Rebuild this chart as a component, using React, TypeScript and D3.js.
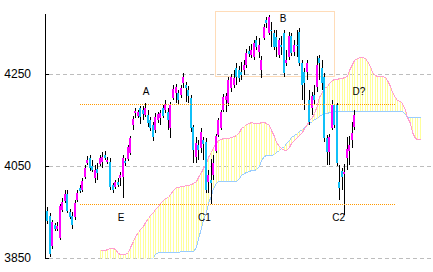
import React from 'react';
import * as d3 from 'd3';

const W = 433;
const H = 272;

// ---- candle data (one entry per period) ----
const opens = [
  3952, 3941, 3876, 3922, 3913, 3894, 3954, 3974, 3989, 3950,
  3941, 3939, 3976, 4002, 3998, 4026, 4057, 4068, 4050, 4024,
  4044, 4054, 4059, 4074, 4059, 4059, 4009, 4004, 4015, 4024,
  4026, 4061, 4065, 4078, 4139, 4165, 4159, 4176, 4172, 4161,
  4161, 4150, 4139, 4128, 4150, 4154, 4176, 4172, 4168, 4133,
  4198, 4209, 4209, 4204, 4231, 4226, 4215, 4198, 4135, 4070,
  4096, 4089, 4107, 4102, 4015, 4020, 4031, 4083, 4118, 4133,
  4172, 4194, 4187, 4220, 4226, 4263, 4259, 4254, 4259, 4270,
  4300, 4291, 4287, 4324, 4298, 4259, 4328, 4368, 4339, 4346,
  4339, 4331, 4291, 4313, 4339, 4274, 4287, 4333, 4298, 4313,
  4341, 4274, 4254, 4254, 4194, 4176, 4204, 4222, 4285, 4263,
  4244, 4111, 4081, 4133, 4183, 4183, 4015, 4039, 4033, 4068,
  4083, 4107, 4135,
];
const highs = [
  3961, 3948, 3933, 3926, 3928, 3968, 3981, 3998, 3998, 3957,
  3950, 3976, 3998, 4009, 4024, 4052, 4072, 4074, 4063, 4052,
  4057, 4074, 4081, 4083, 4070, 4068, 4013, 4020, 4024, 4037,
  4074, 4068, 4096, 4115, 4159, 4176, 4172, 4181, 4181, 4187,
  4172, 4157, 4146, 4165, 4168, 4172, 4183, 4194, 4176, 4189,
  4226, 4228, 4215, 4226, 4252, 4233, 4224, 4204, 4139, 4113,
  4107, 4133, 4113, 4111, 4041, 4065, 4074, 4120, 4154, 4172,
  4207, 4209, 4244, 4250, 4259, 4274, 4268, 4276, 4281, 4304,
  4311, 4315, 4324, 4333, 4328, 4289, 4359, 4374, 4378, 4363,
  4346, 4346, 4328, 4333, 4346, 4302, 4341, 4339, 4324, 4346,
  4350, 4281, 4263, 4281, 4215, 4211, 4226, 4289, 4291, 4281,
  4252, 4118, 4120, 4194, 4185, 4187, 4052, 4046, 4054, 4113,
  4115, 4146, 4172,
];
const lows = [
  3924, 3852, 3870, 3909, 3909, 3889, 3950, 3970, 3948, 3935,
  3913, 3933, 3972, 3991, 3994, 4022, 4052, 4039, 4037, 4013,
  4020, 4050, 4046, 4063, 4054, 3998, 3991, 4000, 4004, 4007,
  3981, 4050, 4061, 4074, 4128, 4154, 4154, 4141, 4150, 4157,
  4135, 4126, 4104, 4122, 4144, 4139, 4154, 4165, 4128, 4111,
  4194, 4187, 4185, 4198, 4220, 4189, 4187, 4124, 4057, 4057,
  4063, 4078, 4063, 3991, 3991, 3968, 4020, 4078, 4113, 4128,
  4168, 4168, 4181, 4211, 4220, 4226, 4233, 4237, 4248, 4263,
  4287, 4285, 4281, 4302, 4285, 4241, 4324, 4350, 4335, 4309,
  4302, 4287, 4285, 4291, 4244, 4268, 4281, 4289, 4289, 4287,
  4268, 4194, 4172, 4237, 4139, 4161, 4183, 4211, 4237, 4215,
  4102, 4052, 4052, 4128, 4133, 4050, 3976, 3998, 3944, 4041,
  4052, 4089, 4128,
];
const closes = [
  3931, 3859, 3928, 3913, 3920, 3963, 3972, 3989, 3952, 3939,
  3922, 3970, 3991, 3996, 4018, 4046, 4063, 4046, 4041, 4041,
  4035, 4068, 4070, 4068, 4063, 4004, 3998, 4015, 4009, 4031,
  4068, 4057, 4091, 4111, 4152, 4170, 4168, 4157, 4163, 4176,
  4144, 4133, 4113, 4157, 4163, 4165, 4159, 4185, 4150, 4183,
  4218, 4222, 4194, 4220, 4244, 4220, 4202, 4133, 4085, 4100,
  4085, 4124, 4098, 3998, 4031, 4013, 4057, 4115, 4150, 4168,
  4200, 4202, 4237, 4244, 4241, 4244, 4241, 4248, 4270, 4296,
  4294, 4302, 4318, 4309, 4313, 4281, 4352, 4361, 4374, 4344,
  4309, 4309, 4324, 4309, 4252, 4281, 4333, 4296, 4313, 4311,
  4274, 4226, 4231, 4274, 4146, 4202, 4194, 4270, 4274, 4231,
  4111, 4081, 4113, 4183, 4139, 4057, 4002, 4026, 4037, 4087,
  4096, 4122, 4161,
];

// ---- cloud spans (period index cloudStart .. ) ----
const cloudStart = 21;
const spanPink = [
  3868, 3868, 3868, 3870, 3872, 3872, 3870, 3861, 3859, 3859,
  3859, 3863, 3874, 3887, 3898, 3907, 3913, 3920, 3928, 3937,
  3944, 3950, 3957, 3963, 3970, 3976, 3981, 3983, 3989, 3998,
  4004, 4004, 4007, 4007, 4009, 4009, 4011, 4013, 4018, 4026,
  4037, 4046, 4057, 4070, 4081, 4091, 4100, 4107, 4109, 4111,
  4111, 4111, 4113, 4115, 4118, 4124, 4133, 4137, 4141, 4144,
  4146, 4144, 4144, 4144, 4146, 4146, 4144, 4139, 4128, 4115,
  4102, 4094, 4089, 4085, 4085, 4091, 4100, 4107, 4113, 4118,
  4124, 4133, 4141, 4150, 4157, 4165, 4183, 4200, 4211, 4220,
  4224, 4231, 4237, 4239, 4239, 4241, 4241, 4244, 4246, 4259,
  4272, 4281, 4285, 4287, 4287, 4285, 4278, 4268, 4254, 4248,
  4246, 4246, 4246, 4244, 4237, 4224, 4211, 4200, 4194, 4191,
  4187, 4172, 4157, 4144, 4124, 4111, 4109, 4109,
];
const spanBlue = [
  3838, 3838, 3837, 3837, 3836, 3836, 3836, 3835, 3835, 3835,
  3835, 3835, 3836, 3836, 3836, 3837, 3838, 3840, 3842, 3845,
  3848, 3853, 3859, 3863, 3863, 3863, 3863, 3863, 3863, 3863,
  3863, 3863, 3865, 3865, 3865, 3865, 3865, 3865, 3874, 3894,
  3915, 3935, 3950, 3970, 3987, 4002, 4013, 4018, 4018, 4018,
  4018, 4018, 4018, 4018, 4018, 4024, 4031, 4035, 4037, 4039,
  4041, 4041, 4044, 4050, 4063, 4072, 4074, 4074, 4074, 4076,
  4081, 4085, 4089, 4094, 4100, 4107, 4113, 4118, 4122, 4126,
  4131, 4135, 4139, 4144, 4148, 4152, 4154, 4159, 4163, 4165,
  4165, 4168, 4170, 4170, 4170, 4170, 4170, 4170, 4170, 4170,
  4170, 4170, 4170, 4170, 4170, 4170, 4170, 4170, 4170, 4170,
  4170, 4170, 4170, 4170, 4170, 4170, 4170, 4170, 4170, 4170,
  4170, 4163, 4157, 4157, 4157, 4157, 4157, 4157,
];

// ---- axis / annotations ----
const yTicks = [4250, 4050, 3850];
const yDomain = [3850, 4380];
const lastPeriod = 148;
const refLevels = [4185, 3968];
const refFrom = 12.7;
const refTo = 138.5;
const boxPeriods = [66.7, 113.9];
const boxValues = [4246, 4387];
const labelTexts = ['A', 'B', 'D?', 'E', 'C1', 'C2'];
const labelPeriods = [39.3, 93.7, 123.8, 29.4, 62.5, 115.7];
const labelValues = [4204, 4363, 4204, 3931, 3931, 3931];

const UP = '#ff00ff';
const DOWN = '#10c0f8';
const FONT = '"Liberation Sans", Arial, sans-serif';

export default function App() {
  const x = d3.scaleLinear().domain([0, lastPeriod]).range([47, 420]);
  const y = d3.scaleLinear().domain(yDomain).range([258, 14]);
  const plotTop = y(yDomain[1]);
  const plotBottom = y(yDomain[0]);
  const axisX = 45;

  const cloudLine = (arr: number[]) =>
    d3
      .line<number>()
      .x((_, k) => Math.round(x(cloudStart + k)) + 0.5)
      .y((d) => Math.round(y(d)) + 0.5)(arr) || '';

  return (
    <svg
      width={W}
      height={H}
      style={{ position: 'absolute', left: 0, top: 0, background: '#fff' }}
      fontFamily={FONT}
    >
      <defs>
        <clipPath id="plotClip">
          <rect x={axisX + 1} y={0} width={W - axisX} height={plotBottom + 0.5} />
        </clipPath>
      </defs>
      <rect x={0} y={0} width={W} height={H} fill="#fff" />

      {/* grid lines */}
      {yTicks.map((t) => (
        <line
          key={'g' + t}
          x1={axisX + 4}
          x2={W}
          y1={Math.round(y(t)) + 0.5}
          y2={Math.round(y(t)) + 0.5}
          stroke="#bdbdbd"
          strokeDasharray="4,3"
          shapeRendering="crispEdges"
        />
      ))}

      {/* cloud */}
      <g clipPath="url(#plotClip)">
        {spanPink.map((p, k) => {
          const b = spanBlue[k];
          const xx = Math.round(x(cloudStart + k)) + 0.5;
          return (
            <line
              key={'h' + k}
              x1={xx}
              x2={xx}
              y1={Math.round(y(Math.max(p, b)))}
              y2={Math.round(y(Math.min(p, b))) + 1}
              stroke="#ffff99"
              shapeRendering="crispEdges"
            />
          );
        })}
        <path d={cloudLine(spanBlue)} fill="none" stroke="#99ccff" shapeRendering="crispEdges" />
        <path d={cloudLine(spanPink)} fill="none" stroke="#ff9ecf" shapeRendering="crispEdges" />
      </g>

      {/* dotted box near B */}
      <rect
        x={Math.round(x(boxPeriods[0])) + 0.5}
        y={Math.round(y(boxValues[1])) + 0.5}
        width={Math.round(x(boxPeriods[1])) - Math.round(x(boxPeriods[0]))}
        height={Math.round(y(boxValues[0])) - Math.round(y(boxValues[1]))}
        fill="none"
        stroke="#ffb870"
        strokeDasharray="1,1"
      />

      {/* candles */}
      {opens.map((o, i) => {
        const c = closes[i];
        const cx = Math.round(x(i));
        const yh = Math.round(y(highs[i]));
        const yl = Math.round(y(lows[i]));
        const yo = Math.round(y(o));
        const yc = Math.round(y(c));
        const top = Math.min(yo, yc);
        const bh = Math.max(1, Math.abs(yo - yc));
        return (
          <g key={'c' + i} shapeRendering="crispEdges">
            <rect x={cx} y={yh} width={1} height={Math.max(1, yl - yh)} fill="#000" />
            <rect x={cx - 1} y={top} width={2} height={bh} fill={c >= o ? UP : DOWN} />
          </g>
        );
      })}

      {/* orange reference lines */}
      {refLevels.map((v) => (
        <rect
          key={'r' + v}
          x={Math.round(x(refFrom))}
          y={Math.round(y(v))}
          width={Math.round(x(refTo)) - Math.round(x(refFrom))}
          height={1}
          fill="url(#orangeDots)"
        />
      ))}
      <defs>
        <pattern id="orangeDots" patternUnits="userSpaceOnUse" width={2} height={1}>
          <rect x={0} y={0} width={1} height={1} fill="#ff9900" />
        </pattern>
      </defs>

      {/* labels */}
      {labelTexts.map((t, k) => (
        <text
          key={'l' + k}
          x={x(labelPeriods[k])}
          y={y(labelValues[k])}
          fontSize={10}
          textAnchor="middle"
          fill="#000"
        >
          {t}
        </text>
      ))}

      {/* y axis */}
      <line
        x1={axisX + 0.5}
        x2={axisX + 0.5}
        y1={plotTop}
        y2={plotBottom + 1}
        stroke="#000"
        shapeRendering="crispEdges"
      />
      {yTicks.map((t) => (
        <g key={'t' + t}>
          <line
            x1={axisX}
            x2={axisX + 4}
            y1={Math.round(y(t)) + 0.5}
            y2={Math.round(y(t)) + 0.5}
            stroke="#000"
            shapeRendering="crispEdges"
          />
          <text x={31} y={y(t) + 4} fontSize={12} textAnchor="end" fill="#000">
            {t}
          </text>
        </g>
      ))}
    </svg>
  );
}
